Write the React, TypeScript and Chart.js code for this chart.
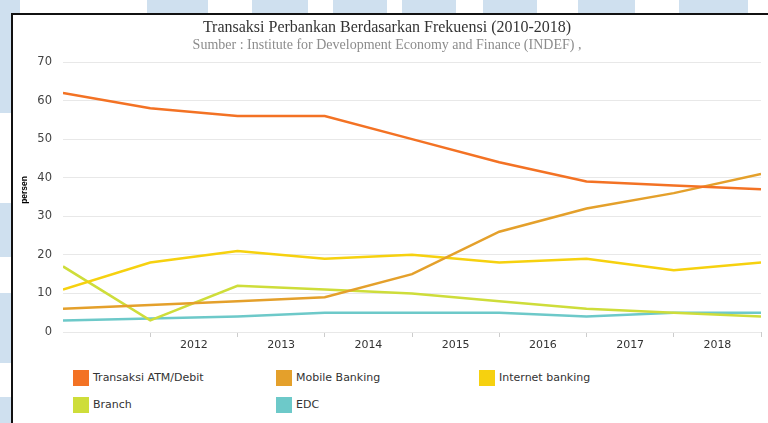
import React, { useEffect, useRef } from "react";
import { Chart, registerables } from "chart.js";

Chart.register(...registerables);

// ---- text ----
const titleText = "Transaksi Perbankan Berdasarkan Frekuensi (2010-2018)";
const subtitleText = "Sumber : Institute for Development Economy and Finance (INDEF) ,";
const yAxisTitle = "persen";

// ---- categories / ticks ----
const pointYears = [2010, 2011, 2012, 2013, 2014, 2015, 2016, 2017, 2018];
const xTickLabels = ["2012", "2013", "2014", "2015", "2016", "2017", "2018"];
const yMin = 0;
const yMax = 70;
const yStep = 10;

// ---- series ----
const seriesNames = ["Transaksi ATM/Debit", "Mobile Banking", "Internet banking", "Branch", "EDC"];
const atmDebit = [62, 58, 56, 56, 50, 44, 39, 38, 37];
const mobileBanking = [6, 7, 8, 9, 15, 26, 32, 36, 41];
const internetBanking = [11, 18, 21, 19, 20, 18, 19, 16, 18];
const branch = [17, 3, 12, 11, 10, 8, 6, 5, 4];
const edc = [3, 3.5, 4, 5, 5, 5, 4, 5, 5];
const seriesColors = ["#F37224", "#E4A02B", "#F6D10F", "#CEDD3A", "#6DC9C9"];

const seriesValues = [atmDebit, mobileBanking, internetBanking, branch, edc];

const tickFont = { family: "'DejaVu Sans', sans-serif", size: 11 };
const wmColor = "#CFE0EF";

const topMarks: [number, number][] = [
  [0, 20], [147, 61], [252, 56], [333, 54], [402, 54], [483, 54], [578, 57], [679, 69],
];
const leftMarks: [number, number][] = [
  [0, 113], [203, 54], [293, 70], [397, 26],
];

export default function App() {
  const canvasRef = useRef<HTMLCanvasElement | null>(null);

  useEffect(() => {
    if (!canvasRef.current) return;
    // x positions: points sit on integer indices; year labels sit between them
    const tickPositions: number[] = [];
    for (let i = 0; i < xTickLabels.length; i++) {
      tickPositions.push(i + 1, i + 1.5);
    }
    tickPositions.push(xTickLabels.length + 1);

    const chart = new Chart(canvasRef.current, {
      type: "line",
      data: {
        datasets: seriesNames.map((name, i) => ({
          label: name,
          data: pointYears.map((_, k) => ({ x: k, y: seriesValues[i][k] })),
          borderColor: seriesColors[i],
          backgroundColor: seriesColors[i],
          borderWidth: 2.5,
          pointRadius: 0,
          tension: 0,
          fill: false,
        })),
      },
      options: {
        responsive: false,
        maintainAspectRatio: false,
        animation: false,
        layout: { padding: { left: 0, right: 7, top: 0, bottom: 5.8 } },
        plugins: {
          legend: { display: false },
          tooltip: { enabled: false },
          title: {
            display: true,
            text: titleText,
            color: "#333333",
            font: { family: "'Liberation Serif', serif", size: 16, weight: "normal" },
            padding: { top: 3, bottom: 0 },
          },
          subtitle: {
            display: true,
            text: subtitleText,
            color: "#8C8C8C",
            font: { family: "'Liberation Serif', serif", size: 14, weight: "normal" },
            padding: { top: 0, bottom: 8 },
          },
        },
        scales: {
          x: {
            type: "linear",
            min: 0,
            max: pointYears.length - 1,
            afterBuildTicks: (scale: any) => {
              scale.ticks = tickPositions.map((v) => ({ value: v }));
            },
            grid: {
              drawOnChartArea: false,
              drawTicks: true,
              tickLength: 5,
              tickColor: (ctx: any) =>
                ctx.tick && Number.isInteger(ctx.tick.value) ? "#CCCCCC" : "rgba(0,0,0,0)",
            },
            border: { display: false },
            ticks: {
              autoSkip: false,
              maxRotation: 0,
              minRotation: 0,
              padding: 2,
              color: "#333333",
              font: tickFont,
              callback: (v: any) => {
                const n = Number(v);
                if (Number.isInteger(n)) return "";
                return xTickLabels[Math.floor(n) - 1] ?? "";
              },
            },
          },
          y: {
            min: yMin,
            max: yMax,
            afterFit: (scale: any) => {
              scale.width = 50;
            },
            grid: { color: "#E8E8E8", drawTicks: false, lineWidth: 1 },
            border: { display: false },
            ticks: {
              stepSize: yStep,
              padding: 11,
              color: "#444444",
              font: { family: "'DejaVu Sans', sans-serif", size: 11.5 },
            },
            title: {
              display: true,
              text: "      " + yAxisTitle,
              color: "#000000",
              font: { family: "'Liberation Sans', sans-serif", size: 8.5, weight: "bold" },
              padding: { top: 7, bottom: 0 },
            },
          },
        },
      },
    } as any);
    return () => chart.destroy();
  }, []);

  const legendItems = seriesNames.map((name, i) => ({ name, color: seriesColors[i] }));

  return (
    <div style={{ position: "fixed", left: 0, top: 0, width: 768, height: 423, background: "#fff", overflow: "hidden" }}>
      {topMarks.map(([x, w], i) => (
        <div key={"t" + i} style={{ position: "absolute", left: x, top: 0, width: w, height: 13, background: wmColor }} />
      ))}
      {leftMarks.map(([y, h], i) => (
        <div key={"l" + i} style={{ position: "absolute", left: 0, top: y, width: 11, height: h, background: wmColor }} />
      ))}
      <div
        style={{
          position: "absolute",
          left: 11,
          top: 13,
          width: 757,
          height: 410,
          borderLeft: "2px solid #111",
          borderTop: "2px solid #111",
          background: "#fff",
        }}
      >
        <canvas ref={canvasRef} width={755} height={345} style={{ display: "block", width: 755, height: 345 }} />
        <div
          style={{
            position: "absolute",
            left: 60,
            top: 355,
            width: 640,
            display: "grid",
            gridTemplateColumns: "203px 203px 203px",
            rowGap: 11,
            fontFamily: "'DejaVu Sans', sans-serif",
            fontSize: 11,
            color: "#333",
          }}
        >
          {legendItems.map((it) => (
            <div key={it.name} style={{ display: "flex", alignItems: "center", height: 16, lineHeight: "16px" }}>
              <span style={{ display: "inline-block", width: 16, height: 16, background: it.color, marginRight: 4 }} />
              <span>{it.name}</span>
            </div>
          ))}
        </div>
      </div>
    </div>
  );
}
